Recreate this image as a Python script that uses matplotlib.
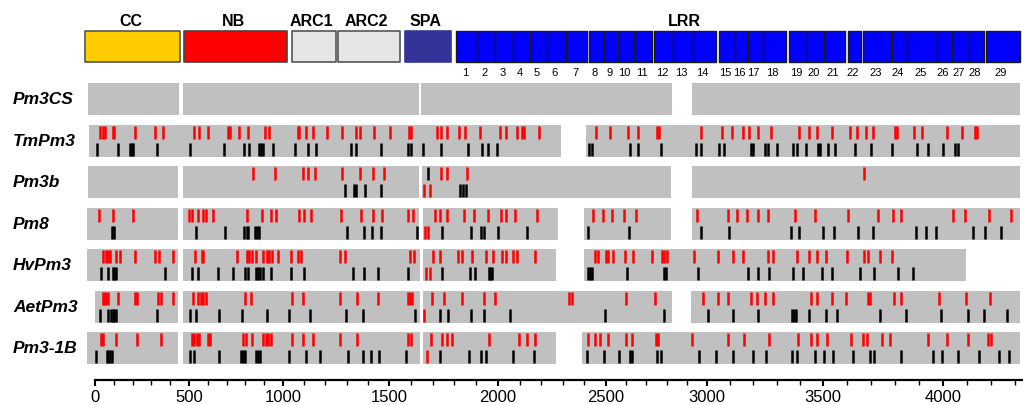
import numpy as np
import matplotlib.pyplot as plt
from matplotlib.ticker import FixedLocator

plt.rcParams['font.family'] = ['Liberation Sans', 'DejaVu Sans']

# the printed ruler is not evenly spaced, so the x scale follows its tick marks
ruler_pos = [-10000, 0, 500, 1000, 1500, 2000, 2500, 3000, 3500, 4000, 10000]
ruler_px = [-1785, 95, 189, 283, 389, 498, 606, 707, 823, 943, 2383]

# domain map on top (residue positions)
domain_names = ['CC', 'NB', 'ARC1', 'ARC2', 'SPA']
domain_start = [-53, 473, 1042, 1259, 1573]
domain_end = [452, 1019, 1250, 1550, 1784]

lrr_start = [1808, 1904, 1987, 2069, 2148, 2227, 2319, 2421, 2491, 2559, 2644, 2738, 2832, 2931, 3052,
             3121, 3177, 3241, 3353, 3431, 3508, 3604, 3667, 3788, 3851, 3975, 4038, 4108, 4179]
lrr_end = [1904, 1987, 2069, 2148, 2227, 2315, 2412, 2491, 2559, 2639, 2728, 2832, 2931, 3039, 3121,
           3177, 3241, 3340, 3431, 3504, 3592, 3659, 3784, 3851, 3975, 4038, 4108, 4171, 4321]

rows = ['Pm3CS', 'TmPm3', 'Pm3b', 'Pm8', 'HvPm3', 'AetPm3', 'Pm3-1B']

# aligned stretches (start, end) per sequence
pm3cs_seg = [(-37, 447), (468, 1638), (1647, 2827), (2926, 4321)]
tmpm3_seg = [(-32, 2292), (2407, 4321)]
pm3b_seg = [(-37, 442), (468, 1638), (1651, 2822), (2926, 4321)]
pm8_seg = [(-43, 442), (468, 1638), (1656, 2278), (2398, 2822), (2926, 4321)]
hvpm3_seg = [(-43, 442), (468, 1642), (1656, 2269), (2398, 4096)]
aetpm3_seg = [(0, 442), (468, 1642), (1656, 2827), (2921, 4321)]
pm31b_seg = [(-43, 442), (468, 1642), (1656, 2269), (2389, 4321)]

# red = upper lane, black = lower lane
tmpm3_red = [27, 41, 53, 94, 103, 213, 319, 363, 528, 553, 599, 709, 718, 768, 815, 904, 927, 1069, 1077,
             1109, 1143, 1206, 1280, 1345, 1363, 1430, 1505, 1593, 1602, 1719, 1739, 1765, 1821, 1849, 1918,
             2009, 2036, 2087, 2113, 2122, 2191, 2454, 2520, 2610, 2660, 2751, 2764, 2969, 3066, 3109, 3156,
             3181, 3221, 3275, 3397, 3441, 3473, 3536, 3613, 3641, 3680, 3710, 3800, 3808, 3879, 3914, 4015,
             4078, 4133, 4143]
tmpm3_black = [12, 121, 186, 195, 204, 331, 505, 686, 793, 821, 873, 883, 896, 946, 1057, 1119, 1156, 1321,
               1343, 1462, 1589, 1600, 1657, 1737, 1861, 1925, 1956, 1994, 2423, 2437, 2619, 2660, 2771, 2946,
               2969, 3052, 3073, 3188, 3200, 3250, 3264, 3300, 3372, 3387, 3426, 3477, 3487, 3520, 3550, 3633,
               3699, 3789, 3891, 3937, 3999, 4050, 4064]

pm3b_red = [839, 958, 1093, 1119, 1151, 1280, 1363, 1426, 1478, 1739, 1765, 1859, 3672]
pm3b_black = [1294, 1333, 1342, 1385, 1463, 1826, 1841, 1855]
pm3b_red_low = [1661, 1689]
pm3b_black_high = [1680]

pm8_red = [21, 94, 201, 502, 516, 546, 576, 589, 626, 810, 887, 936, 963, 1076, 1099, 1131, 1273, 1367, 1424,
           1466, 1589, 1612, 1712, 1735, 1765, 1842, 1888, 1952, 2012, 2035, 2079, 2179, 2441, 2484, 2528,
           2589, 2649, 2952, 3089, 3128, 3171, 3219, 3264, 3379, 3466, 3603, 3728, 3791, 3825, 4043, 4092,
           4193, 4282]
pm8_black = [89, 103, 536, 691, 794, 807, 815, 851, 860, 872, 1300, 1383, 1421, 1462, 1630, 1741, 1875, 1922,
             1937, 1999, 2133, 2418, 2615, 2969, 3096, 3360, 3398, 3499, 3546, 3647, 3707, 3886, 3928, 3971,
             4126, 4175, 4242]
pm8_red_low = [1665, 1677]

hvpm3_red = [43, 56, 69, 82, 112, 133, 213, 319, 342, 413, 532, 567, 576, 754, 807, 819, 834, 855, 892, 913,
             927, 940, 972, 1038, 1072, 1085, 1269, 1293, 1596, 1616, 1703, 1735, 1817, 1833, 1883, 1943, 1978,
             2017, 2036, 2071, 2087, 2172, 2449, 2464, 2499, 2511, 2533, 2594, 2632, 2729, 2776, 2787, 2803,
             2937, 3046, 3111, 3154, 3262, 3286, 3390, 3441, 3476, 3513, 3599, 3672, 3689, 3738, 3786]
hvpm3_black = [30, 71, 94, 103, 110, 372, 514, 549, 656, 736, 798, 815, 855, 869, 878, 892, 934, 1036, 1099,
               1328, 1383, 1446, 1589, 1743, 1873, 1896, 1957, 1964, 1972, 2418, 2426, 2434, 2605, 2787, 2797,
               2957, 3178, 3219, 3267, 3369, 3412, 3494, 3536, 3654, 3713, 3812, 3877]
hvpm3_red_low = [1669, 1689]

aetpm3_red = [41, 49, 59, 71, 124, 213, 225, 337, 351, 417, 523, 549, 562, 576, 589, 798, 829, 1041, 1093,
              1269, 1348, 1447, 1586, 1597, 1607, 1699, 1754, 1834, 1936, 1986, 2330, 2341, 2598, 2743, 2982,
              3049, 3092, 3188, 3217, 3250, 3286, 3448, 3475, 3536, 3596, 3686, 3696, 3796, 3824, 3983, 4096,
              4196]
aetpm3_black = [27, 71, 84, 94, 103, 112, 328, 505, 536, 662, 784, 914, 1030, 1127, 1297, 1378, 1619, 1735,
                1770, 1877, 1938, 2056, 2495, 2789, 3003, 3113, 3219, 3365, 3375, 3384, 3441, 3511, 3557, 3738,
                3845, 3992, 4105, 4171, 4268]
aetpm3_red_low = [1661]

pm31b_red = [32, 44, 110, 225, 351, 518, 528, 541, 553, 599, 612, 786, 802, 837, 895, 908, 919, 935, 1041,
             1093, 1140, 1269, 1348, 1586, 1601, 1693, 1745, 1765, 1791, 1961, 2098, 2135, 2171, 2418, 2449,
             2472, 2511, 2599, 2627, 2748, 2759, 2927, 3089, 3159, 3268, 3391, 3447, 3475, 3515, 3617, 3668,
             3682, 3745, 3780, 3937, 4015, 4105, 4188, 4200]
pm31b_black = [5, 62, 71, 80, 89, 505, 528, 662, 777, 789, 798, 857, 869, 878, 1028, 1109, 1175, 1308, 1378,
               1415, 1454, 1578, 1735, 1865, 1922, 1945, 2068, 2167, 2410, 2492, 2566, 2619, 2627, 2751, 2771,
               2962, 3039, 3113, 3200, 3253, 3365, 3387, 3466, 3505, 3543, 3624, 3696, 3714, 3825, 3957, 3995,
               4064, 4148, 4234, 4273]
pm31b_red_low = [1674]

segments = {'Pm3CS': pm3cs_seg, 'TmPm3': tmpm3_seg, 'Pm3b': pm3b_seg, 'Pm8': pm8_seg,
            'HvPm3': hvpm3_seg, 'AetPm3': aetpm3_seg, 'Pm3-1B': pm31b_seg}
red_hi = {'TmPm3': tmpm3_red, 'Pm3b': pm3b_red, 'Pm8': pm8_red, 'HvPm3': hvpm3_red,
          'AetPm3': aetpm3_red, 'Pm3-1B': pm31b_red}
black_lo = {'TmPm3': tmpm3_black, 'Pm3b': pm3b_black, 'Pm8': pm8_black, 'HvPm3': hvpm3_black,
            'AetPm3': aetpm3_black, 'Pm3-1B': pm31b_black}
red_lo = {'Pm3b': pm3b_red_low, 'Pm8': pm8_red_low, 'HvPm3': hvpm3_red_low,
          'AetPm3': aetpm3_red_low, 'Pm3-1B': pm31b_red_low}
black_hi = {'Pm3b': pm3b_black_high}


def fwd(v):
    return np.interp(v, ruler_pos, ruler_px)


def inv(p):
    return np.interp(p, ruler_px, ruler_pos)


fig = plt.figure(figsize=(10.23, 4.06), dpi=100)
ax = fig.add_axes([0, 0, 1, 1])
ax.set_xscale('function', functions=(fwd, inv))
ax.set_xlim(inv(0), inv(1023))
ax.set_ylim(406, 0)

# domain boxes
dom_colors = ['#FFCC00', '#FF0000', '#E6E6E6', '#E6E6E6', '#333399']
dom_edges = ['#555555', '#444444', '#555555', '#555555', '#333399']
for name, s, e, fc, ec in zip(domain_names, domain_start, domain_end, dom_colors, dom_edges):
    ax.broken_barh([(s, e - s)], (32, 31), facecolors=fc, edgecolors=ec, linewidth=1.2)
    ax.text((s + e) / 2 - 10, 21, name, ha='center', va='center', fontsize=11.5, fontweight='bold')

ax.broken_barh([(s, e - s) for s, e in zip(lrr_start, lrr_end)], (32, 31),
               facecolors='#0000FF', edgecolors='#1a1a1a', linewidth=1)
for k, (s, e) in enumerate(zip(lrr_start, lrr_end)):
    ax.text((s + e) / 2 - 8, 73, str(k + 1), ha='center', va='center', fontsize=8)
ax.text(2890, 21, 'LRR', ha='center', va='center', fontsize=11.5, fontweight='bold')

# sequence rows
for i, name in enumerate(rows):
    yc = 100 + i * 41.5
    ax.broken_barh([(s, e - s) for s, e in segments[name]], (yc - 16, 32), facecolors='#C0C0C0')
    ax.vlines(red_hi.get(name, []), yc - 15, yc - 2, colors='#FF0000', lw=1.8)
    ax.vlines(red_lo.get(name, []), yc + 2, yc + 15, colors='#FF0000', lw=1.8)
    ax.vlines(black_lo.get(name, []), yc + 2, yc + 15, colors='black', lw=1.8)
    ax.vlines(black_hi.get(name, []), yc - 15, yc - 2, colors='black', lw=1.8)
    ax.text(13 / 1023, yc, name, transform=ax.get_yaxis_transform(), ha='left', va='center',
            fontsize=12.5, fontweight='bold', fontstyle='italic')

# ruler
for side in ['top', 'left', 'right']:
    ax.spines[side].set_visible(False)
ax.spines['bottom'].set_position(('data', 381))
ax.spines['bottom'].set_bounds(0, inv(1023))
ax.spines['bottom'].set_linewidth(1.6)
ax.xaxis.set_major_locator(FixedLocator(list(range(0, 4001, 500))))
ax.xaxis.set_minor_locator(FixedLocator([v for v in range(100, 4301, 100) if v % 500]))
ax.tick_params(axis='x', which='major', direction='out', length=4.5, width=1.5, labelsize=12, pad=2)
ax.tick_params(axis='x', which='minor', direction='out', length=3.5, width=1)
ax.set_yticks([])

fig.savefig('out.png', dpi=100)
